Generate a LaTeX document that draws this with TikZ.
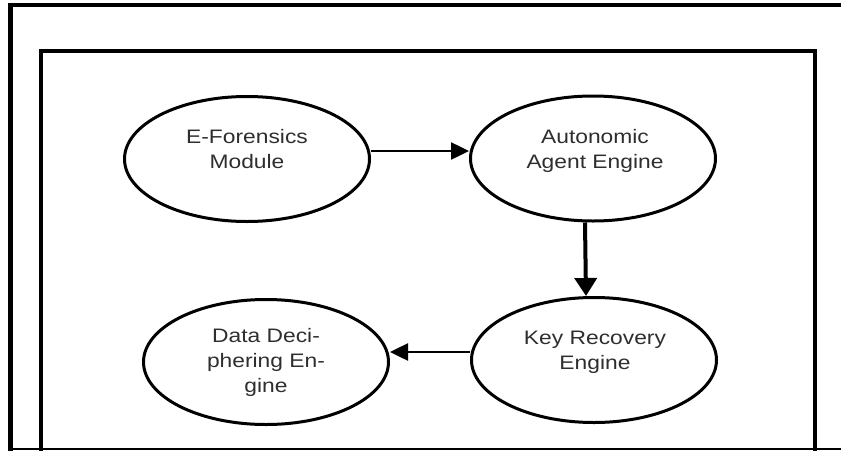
\documentclass[tikz,border=0pt]{standalone}
\usepackage{fontspec}
\newfontfamily\labfont[FakeStretch=1.17]{Liberation Sans}
\usetikzlibrary{shapes.geometric,arrows.meta}
\definecolor{textgray}{HTML}{2E2E2E}
\tikzset{
  oval/.style={ellipse,draw=black,line width=3pt,minimum width=245pt,minimum height=125pt,inner sep=0pt},
  lab/.style={align=center,inner sep=0pt,text=textgray,font=\labfont\fontsize{19.5}{25}\selectfont},
  harrow/.style={line width=2.5pt,-{Triangle[length=18pt,width=17pt]}},
  varrow/.style={line width=4pt,-{Triangle[length=18pt,width=22pt]}},
  frameline/.style={line width=4.4pt,line cap=rect}
}
\begin{document}
\begin{tikzpicture}[x=1pt,y=-1pt]
\useasboundingbox (0,0) rectangle (841,450);
% frames
\draw[frameline] (10.5,455) -- (10.5,5) -- (845,5);
\draw[line width=4pt] (41,455) -- (41,51) -- (814.5,51) -- (814.5,455);
\draw[line width=1.2pt] (8,449) -- (845,449);
% ellipses
\node[oval] (efm) at (247,159) {};
\node[oval] (aae) at (593,158.5) {};
\node[oval] (kre) at (594,360) {};
\node[oval] (dde) at (266,362) {};
% labels
\node[lab] (tefm) at (247,149) {E-Forensics\\Module};
\node[lab] (taae) at (595,150.5) {Autonomic\\Agent Engine};
\node[lab] (tkre) at (595,352) {Key Recovery\\Engine};
\node[lab] (tdde) at (266,362.5) {Data Deci-\\phering En-\\gine};
% arrows
\draw[harrow] ([yshift=8pt]efm.east) -- ([yshift=8pt]efm.east -| aae.west);
\draw[varrow] ([xshift=-8pt]aae.south) -- ([xshift=-8pt]kre.north);
\draw[harrow] ([yshift=8pt]kre.west) -- ([yshift=8pt]kre.west -| dde.east);
\end{tikzpicture}
\end{document}
